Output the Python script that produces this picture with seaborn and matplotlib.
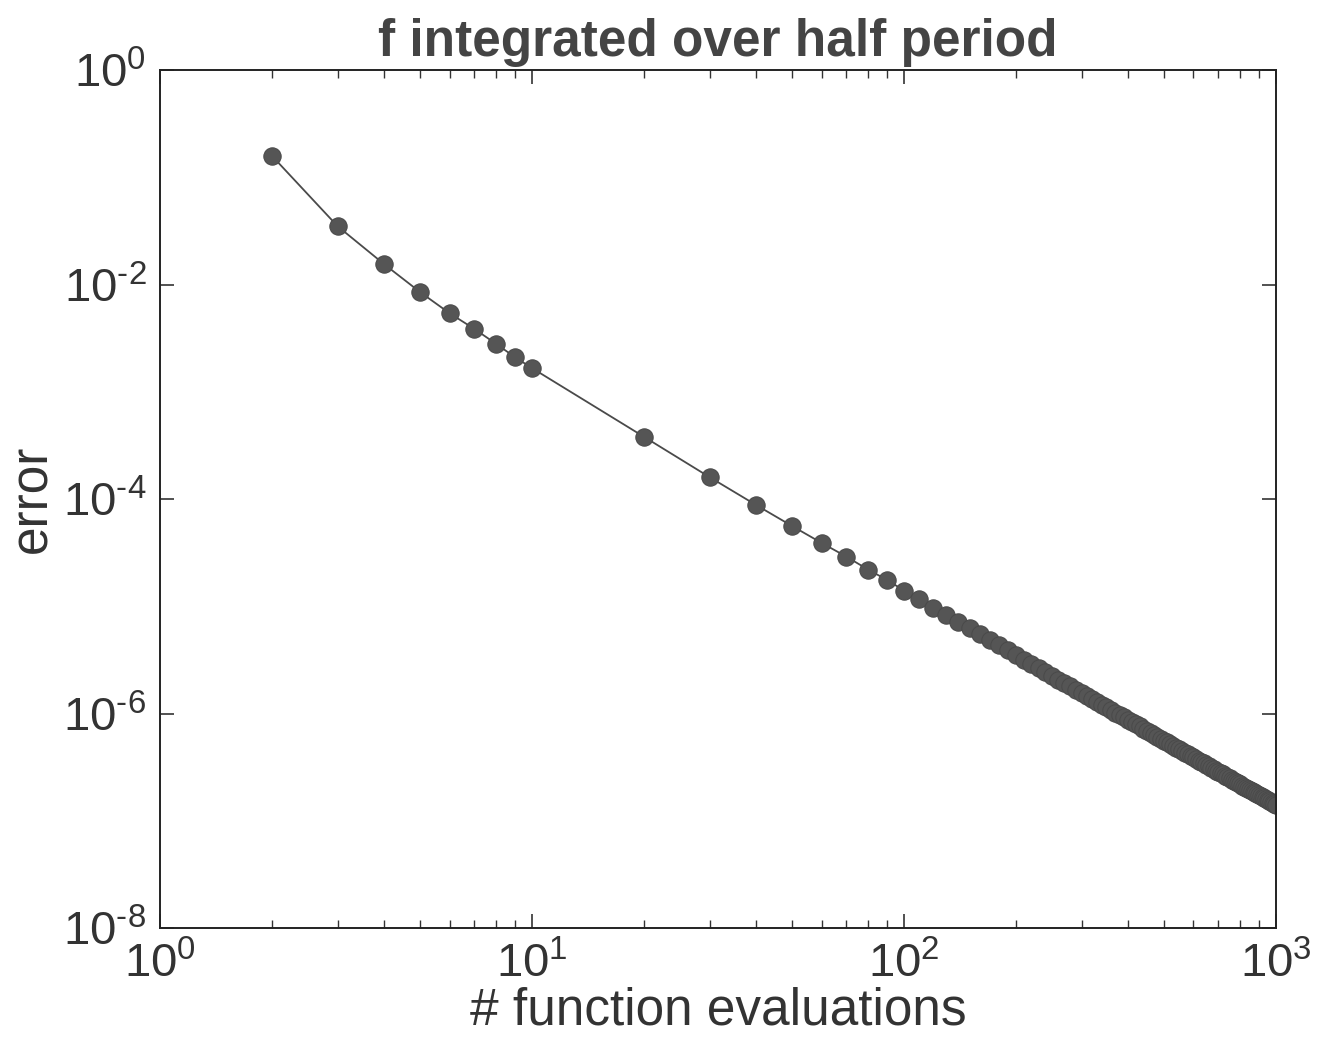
import matplotlib
matplotlib.use("Agg")
import matplotlib.pyplot as plt
import matplotlib.ticker as mticker
import seaborn as sns
import pandas as pd

# function evaluations (x) and error
evals = list(range(2, 11)) + list(range(20, 1001, 10))
error = [
    1.58e-1, 3.5e-2, 1.55e-2, 8.5e-3, 5.4e-3, 3.85e-3, 2.8e-3, 2.1e-3, 1.66e-3,
    3.8e-4, 1.6e-4, 8.8e-5, 5.6e-5, 3.9e-5, 2.9e-5, 2.2e-5, 1.76e-5, 1.4e-5,
    1.157e-5, 9.72e-6, 8.28e-6, 7.14e-6, 6.22e-6, 5.47e-6, 4.84e-6, 4.32e-6, 3.88e-6, 3.50e-6,
    3.17e-6, 2.89e-6, 2.65e-6, 2.43e-6, 2.24e-6, 2.07e-6, 1.92e-6, 1.79e-6, 1.66e-6, 1.56e-6,
    1.46e-6, 1.37e-6, 1.29e-6, 1.21e-6, 1.14e-6, 1.08e-6, 1.02e-6, 9.70e-7, 9.20e-7, 8.75e-7,
    8.33e-7, 7.94e-7, 7.57e-7, 7.23e-7, 6.91e-7, 6.62e-7, 6.34e-7, 6.08e-7, 5.83e-7, 5.60e-7,
    5.38e-7, 5.18e-7, 4.98e-7, 4.80e-7, 4.63e-7, 4.46e-7, 4.31e-7, 4.16e-7, 4.02e-7, 3.89e-7,
    3.76e-7, 3.64e-7, 3.53e-7, 3.42e-7, 3.31e-7, 3.21e-7, 3.12e-7, 3.03e-7, 2.94e-7, 2.86e-7,
    2.78e-7, 2.70e-7, 2.63e-7, 2.56e-7, 2.49e-7, 2.42e-7, 2.36e-7, 2.30e-7, 2.24e-7, 2.19e-7,
    2.13e-7, 2.08e-7, 2.03e-7, 1.98e-7, 1.94e-7, 1.89e-7, 1.85e-7, 1.81e-7, 1.77e-7, 1.73e-7,
    1.69e-7, 1.65e-7, 1.62e-7, 1.58e-7, 1.55e-7, 1.52e-7, 1.49e-7, 1.46e-7, 1.43e-7, 1.40e-7,
]
df = pd.DataFrame({"evals": evals, "error": error})

xticks = [1, 10, 100, 1000]
xlabels = [r"$10^{0}$", r"$10^{1}$", r"$10^{2}$", r"$10^{3}$"]
yticks = [1e0, 1e-2, 1e-4, 1e-6, 1e-8]
ylabels = [r"$10^{0}$", r"$10^{\text{-2}}$", r"$10^{\text{-4}}$",
           r"$10^{\text{-6}}$", r"$10^{\text{-8}}$"]

sns.set_style("ticks")
plt.rcParams["font.family"] = ["Liberation Sans", "DejaVu Sans"]
plt.rcParams["mathtext.fontset"] = "custom"
plt.rcParams["mathtext.rm"] = "Liberation Sans"
plt.rcParams["mathtext.it"] = "Liberation Sans:italic"

fig = plt.figure(figsize=(13.36, 10.59), dpi=100)
ax = fig.add_axes([0.1198, 0.1237, 0.8353, 0.8102])

sns.lineplot(data=df, x="evals", y="error", ax=ax, color="#4a4a4a",
             linewidth=1.3, marker="o", markersize=12.5, markeredgecolor="#4a4a4a",
             markerfacecolor="#555555")

ax.set_xscale("log")
ax.set_yscale("log")
ax.set_xlim(1, 1000)
ax.set_ylim(1e-8, 1)
ax.set_xticks(xticks, xlabels)
ax.set_yticks(yticks, ylabels)
ax.yaxis.set_minor_locator(mticker.NullLocator())
ax.xaxis.set_minor_locator(mticker.LogLocator(base=10, subs=range(2, 10)))
ax.xaxis.set_minor_formatter(mticker.NullFormatter())

ax.tick_params(which="both", direction="in", top=True, right=True,
               labelsize=34, colors="#333333", pad=10)
ax.tick_params(which="major", length=10, width=1.2)
ax.tick_params(which="minor", length=6, width=1.0)
for s in ax.spines.values():
    s.set_linewidth(1.4)
    s.set_color("#222222")

ax.set_xlabel("# function evaluations", fontsize=37, color="#333333", labelpad=0)
ax.set_ylabel("error", fontsize=37, color="#333333", labelpad=4)
ax.set_title("f integrated over half period", fontsize=37, fontweight="bold",
             color="#444444", pad=10)

fig.savefig("out.png", dpi=100, facecolor="white")
